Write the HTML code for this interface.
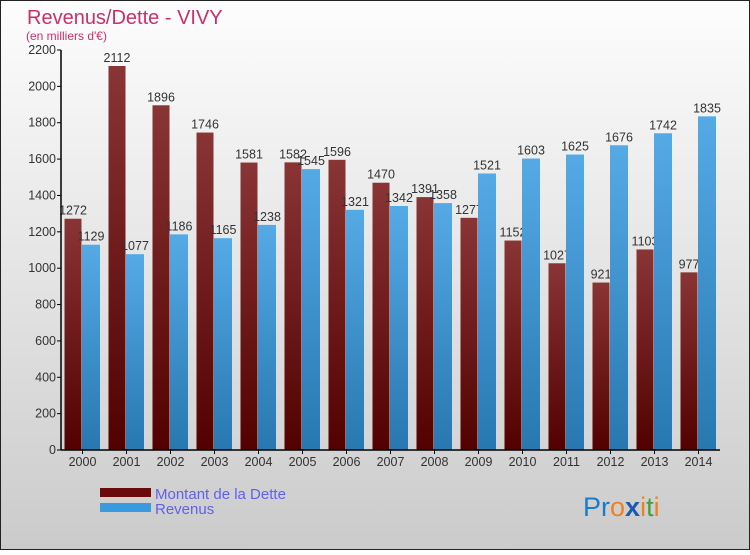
<!DOCTYPE html>
<html><head><meta charset="utf-8"><style>
body{margin:0;}
#c{width:750px;height:550px;position:relative;font-family:"Liberation Sans","DejaVu Sans",sans-serif;}
</style></head><body>
<div id="c">
<svg id="s" width="750" height="550" xmlns="http://www.w3.org/2000/svg">
<defs>
<linearGradient id="bg" x1="0" y1="0" x2="0" y2="1"><stop offset="0" stop-color="#fdfdfd"/><stop offset="1" stop-color="#cbcbcb"/></linearGradient>
<linearGradient id="gd" x1="0" y1="0" x2="0" y2="1"><stop offset="0" stop-color="#8a3535"/><stop offset="1" stop-color="#520000"/></linearGradient>
<linearGradient id="gr" x1="0" y1="0" x2="0" y2="1"><stop offset="0" stop-color="#55aae6"/><stop offset="1" stop-color="#2877b0"/></linearGradient>
</defs>
<rect x="0.5" y="0.5" width="749" height="549" fill="url(#bg)" stroke="#222"/>
<text x="27" y="24" font-size="20" fill="#c8306a">Revenus/Dette - VIVY</text>
<text x="26" y="40" font-size="12" fill="#c8306a">(en milliers d'€)</text>
<g id="plot"></g>
<rect x="100" y="488" width="51" height="9" fill="#6b0a0a"/>
<rect x="100" y="503" width="51" height="9" fill="#3a9ae0"/>
<text x="155" y="499" font-size="15" fill="#6060f0">Montant de la Dette</text>
<text x="155" y="514" font-size="15" fill="#6060f0">Revenus</text>
<text x="583" y="516" font-size="27"><tspan fill="#1a7cc8">Pr</tspan><tspan fill="#f08020">o</tspan><tspan fill="#1a5ab0" font-weight="bold">x</tspan><tspan fill="#f08020">i</tspan><tspan fill="#40a040">t</tspan><tspan fill="#f08020">i</tspan></text>
</svg></div>
<script>
const years=["2000","2001","2002","2003","2004","2005","2006","2007","2008","2009","2010","2011","2012","2013","2014"];
const dette=[1272,2112,1896,1746,1581,1582,1596,1470,1391,1277,1152,1027,921,1103,977];
const revenus=[1129,1077,1186,1165,1238,1545,1321,1342,1358,1521,1603,1625,1676,1742,1835];
const yTicks=[0,200,400,600,800,1000,1200,1400,1600,1800,2000,2200];
const NS="http://www.w3.org/2000/svg";
const g=document.getElementById('plot');
const x0=61,y0=450,yTop=50,yMax=2200,pitch=44;
function Y(v){return y0-(v/yMax)*(y0-yTop);}
function X(i){return 64.5+pitch*i;}
function mk(t,a){const e=document.createElementNS(NS,t);for(const k in a)e.setAttribute(k,a[k]);g.appendChild(e);return e;}
yTicks.forEach(v=>{
 const l=mk('line',{x1:x0-4,x2:x0,y1:Y(v),y2:Y(v),stroke:'#000'});
 
 
 const t=mk('text',{x:x0-5,y:Y(v)+4,'font-size':12.5,'text-anchor':'end',fill:'#333'});
 t.textContent=v;
 
 
});
years.forEach((yr,i)=>{
 const d=mk('rect',{x:X(i),y:Y(dette[i]),width:17,height:y0-Y(dette[i]),fill:'url(#gd)'});
 
 
 const td=mk('text',{x:X(i)+8.5,y:Y(dette[i])-4,'font-size':12.5,'text-anchor':'middle',fill:'#333'});
 td.textContent=dette[i];
 
 
 const r=mk('rect',{x:X(i)+17.5,y:Y(revenus[i]),width:18,height:y0-Y(revenus[i]),fill:'url(#gr)'});
 
 
 const tr=mk('text',{x:X(i)+26.5,y:Y(revenus[i])-4,'font-size':12.5,'text-anchor':'middle',fill:'#333'});
 tr.textContent=revenus[i];
 
 
 const t=mk('text',{x:X(i)+18,y:466,'font-size':12.5,'text-anchor':'middle',fill:'#333'});
 t.textContent=yr;
 
 
 const tk=mk('line',{x1:X(i)+18,x2:X(i)+18,y1:y0,y2:y0+4,stroke:'#000'});
 
 
});
const ya=mk('line',{x1:x0,x2:x0,y1:yTop,y2:y0,stroke:'#000','stroke-width':1.5});


const xa=mk('line',{x1:x0,x2:720,y1:y0,y2:y0,stroke:'#000','stroke-width':1.5});


</script>
</body></html>
